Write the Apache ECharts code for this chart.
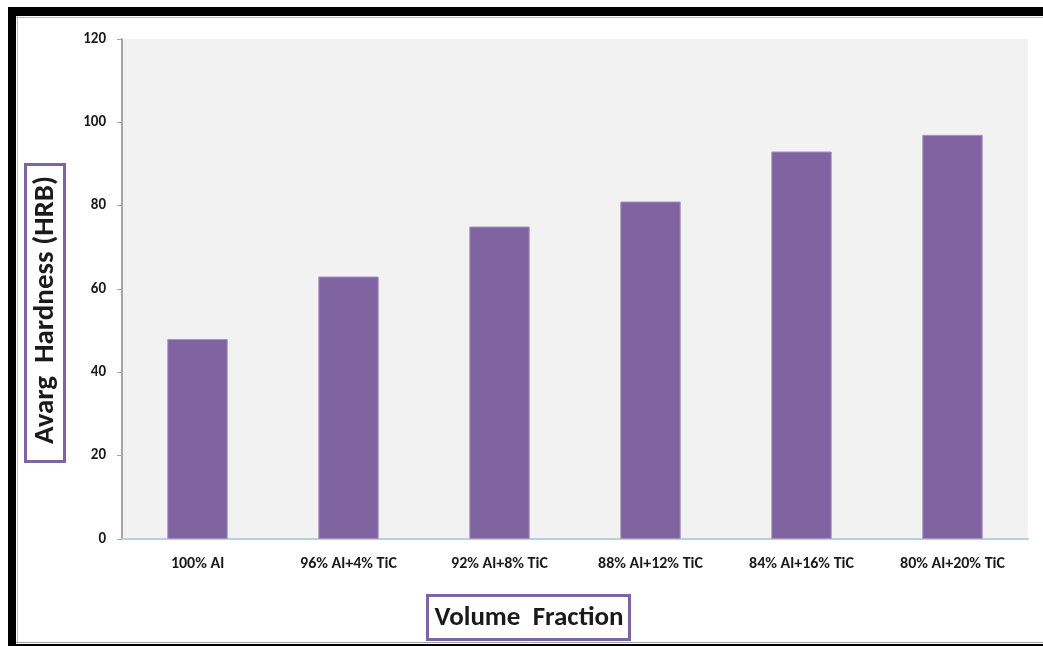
<!DOCTYPE html>
<html>
<head>
<meta charset="utf-8">
<title>Avarg Hardness (HRB)</title>
<script src="https://cdn.jsdelivr.net/npm/echarts@6/dist/echarts.min.js"></script>
<style>
  html, body { margin: 0; padding: 0; background: #ffffff; }
  #chart { width: 1043px; height: 646px; }
</style>
</head>
<body>
<div id="chart"></div>
<script>
// Composition of each sample (volume fraction)
var categories = ['100% Al', '96% Al+4% TiC', '92% Al+8% TiC', '88% Al+12% TiC', '84% Al+16% TiC', '80% Al+20% TiC'];
// Average Rockwell hardness per sample
var hardness = [48, 63, 75, 81, 93, 97];
// Hardness axis ticks
var yTicks = [0, 20, 40, 60, 80, 100, 120];

var FONT = 'Carlito, Calibri, Lato, sans-serif';
var TEXT = '#1a1a1a';
var PURPLE = '#8064A2';

var chart = echarts.init(document.getElementById('chart'), null, { renderer: 'canvas' });

chart.setOption({
  backgroundColor: '#ffffff',
  animation: false,
  grid: {
    left: 122, right: 15, top: 39, bottom: 107,
    show: true, backgroundColor: '#F2F2F2', borderWidth: 0
  },
  xAxis: {
    type: 'category',
    data: categories,
    axisLine: { show: true, lineStyle: { color: '#B9CDE5', width: 2 } },
    axisTick: { show: false },
    axisLabel: {
      color: TEXT, fontFamily: FONT, fontWeight: 'bold', fontSize: 16, margin: 17
    },
    splitLine: { show: false }
  },
  yAxis: {
    type: 'value',
    min: yTicks[0],
    max: yTicks[yTicks.length - 1],
    interval: yTicks[1] - yTicks[0],
    axisLine: { show: true, lineStyle: { color: '#A6A6A6', width: 2 } },
    axisTick: { show: true, length: 5, lineStyle: { color: '#A6A6A6', width: 1 } },
    axisLabel: {
      color: TEXT, fontFamily: FONT, fontWeight: 'bold', fontSize: 15, margin: 16
    },
    splitLine: { show: false }
  },
  series: [{
    type: 'bar',
    data: hardness,
    barWidth: '40%',
    itemStyle: { color: PURPLE, borderColor: '#A592BE', borderWidth: 1 }
  }],
  graphic: [
    // outer frame
    { type: 'rect', shape: { x: 8, y: 7, width: 1035, height: 9 }, style: { fill: '#000' }, silent: true },
    { type: 'rect', shape: { x: 8, y: 7, width: 8, height: 639 }, style: { fill: '#000' }, silent: true },
    { type: 'rect', shape: { x: 8, y: 644, width: 1035, height: 2 }, style: { fill: '#000' }, silent: true },
    { type: 'line', shape: { x1: 16, y1: 17.5, x2: 1043, y2: 17.5 }, style: { stroke: '#BDBDBD', lineWidth: 1 }, silent: true },
    { type: 'line', shape: { x1: 17.5, y1: 16, x2: 17.5, y2: 643 }, style: { stroke: '#BDBDBD', lineWidth: 1 }, silent: true },
    { type: 'line', shape: { x1: 16, y1: 642.5, x2: 1043, y2: 642.5 }, style: { stroke: '#9E9E9E', lineWidth: 1 }, silent: true },
    // y axis title box
    { type: 'rect', shape: { x: 25.5, y: 164.5, width: 39, height: 297 },
      style: { fill: '#ffffff', stroke: PURPLE, lineWidth: 3 }, silent: true },
    { type: 'text', x: 46, y: 310, rotation: Math.PI / 2,
      style: { text: 'Avarg  Hardness (HRB)', font: 'bold 29px ' + FONT, fill: TEXT,
               align: 'center', verticalAlign: 'middle' }, silent: true },
    // x axis title box
    { type: 'rect', shape: { x: 427.5, y: 595.5, width: 202, height: 44 },
      style: { fill: '#ffffff', stroke: PURPLE, lineWidth: 3 }, silent: true },
    { type: 'text', x: 529, y: 618,
      style: { text: 'Volume  Fraction', font: 'bold 27px ' + FONT, fill: TEXT,
               align: 'center', verticalAlign: 'middle' }, silent: true }
  ]
});
</script>
</body>
</html>
